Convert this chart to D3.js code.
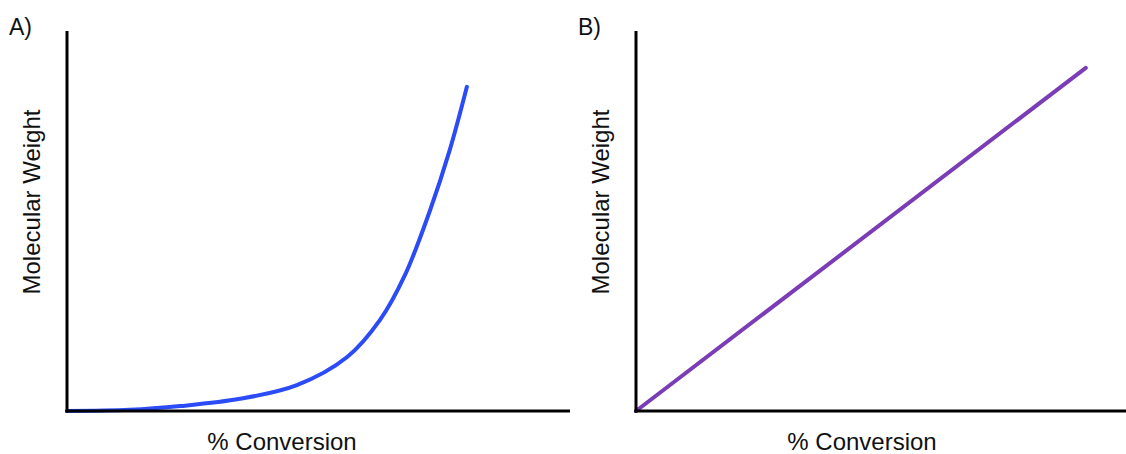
<!DOCTYPE html>
<html>
<head>
<meta charset="utf-8">
<script src="https://cdn.jsdelivr.net/npm/d3@7"></script>
<style>
  body { margin: 0; background: #fff; }
  svg { display: block; }
  text { font-family: "Liberation Sans", Arial, sans-serif; fill: #111; }
</style>
</head>
<body>
<svg id="chart" width="1126" height="454"></svg>
<script>
// % conversion vs molecular weight (arbitrary units, 0-100)
const stepConversion = [0, 12.5, 22.5, 34.4, 45.7, 55.7, 62.2, 67.2, 72.2, 76.1, 79.5];
const stepWeight     = [0, 0.3, 1.3, 3.2, 6.8, 14.2, 23.9, 35.8, 52.9, 68.7, 85.3];

const chainConversion = [0, 91.8];
const chainWeight     = [0, 90.3];

const panelLabels = ["A)", "B)"];
const xLabel = "% Conversion";
const yLabel = "Molecular Weight";

const svg = d3.select("#chart");

const panels = [
  { label: panelLabels[0], left: 67, right: 570, titleX: 282, xs: stepConversion, ys: stepWeight, color: "#2a4bf6", curve: d3.curveCatmullRom },
  { label: panelLabels[1], left: 636, right: 1126, titleX: 862, xs: chainConversion, ys: chainWeight, color: "#7b3db5", curve: d3.curveLinear }
];

const plotTop = 31, plotBottom = 411;

panels.forEach(p => {
  const x = d3.scaleLinear().domain([0, 100]).range([p.left, p.right]);
  const y = d3.scaleLinear().domain([0, 100]).range([plotBottom, plotTop]);
  const g = svg.append("g");

  // data line
  const pts = p.xs.map((v, i) => ({ c: v, w: p.ys[i] }));
  g.append("path")
    .datum(pts)
    .attr("fill", "none")
    .attr("stroke", p.color)
    .attr("stroke-width", 4)
    .attr("stroke-linecap", "round")
    .attr("d", d3.line().x(d => x(d.c)).y(d => y(d.w)).curve(p.curve));

  // axes (plain lines, no ticks)
  g.append("line")
    .attr("x1", x(0)).attr("x2", x(0))
    .attr("y1", y(100)).attr("y2", y(0) + 1.5)
    .attr("stroke", "#000").attr("stroke-width", 3);
  g.append("line")
    .attr("x1", x(0) - 1.5).attr("x2", x(100))
    .attr("y1", y(0)).attr("y2", y(0))
    .attr("stroke", "#000").attr("stroke-width", 3);

  // panel label
  g.append("text")
    .attr("x", p.left - 58)
    .attr("y", 35)
    .attr("font-size", 23)
    .text(p.label);

  // axis titles
  g.append("text")
    .attr("x", p.titleX)
    .attr("y", 450)
    .attr("text-anchor", "middle")
    .attr("font-size", 24)
    .text(xLabel);

  g.append("text")
    .attr("transform", `translate(${p.left - 27},202) rotate(-90)`)
    .attr("text-anchor", "middle")
    .attr("font-size", 24)
    .text(yLabel);
});
</script>
</body>
</html>
